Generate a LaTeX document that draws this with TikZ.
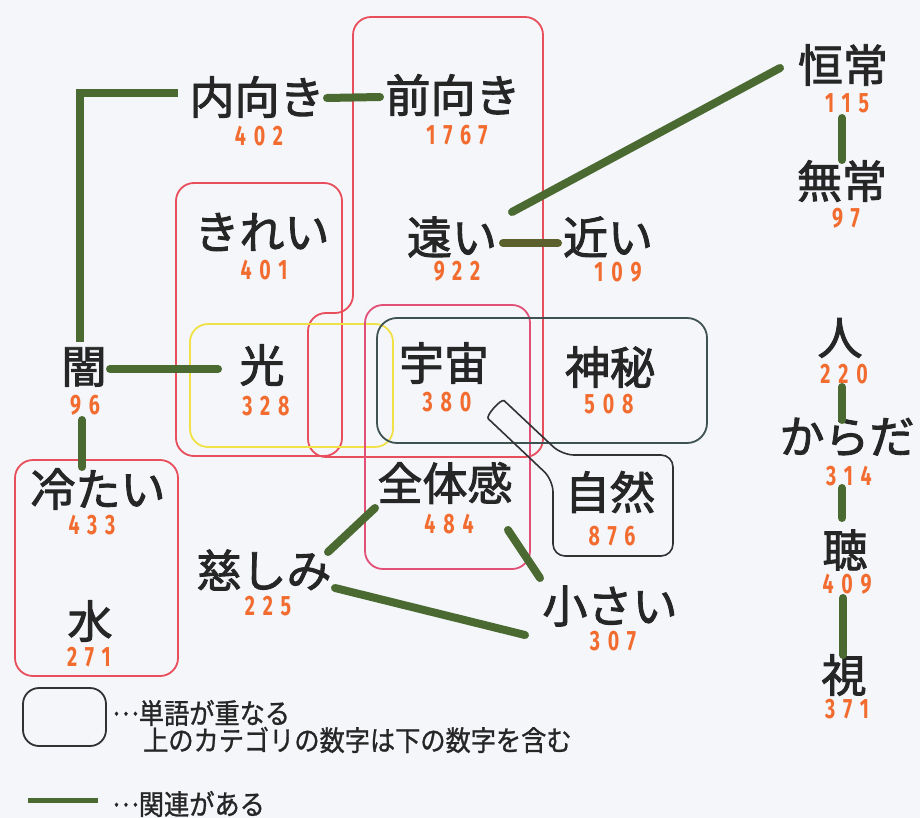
\documentclass[tikz,border=0pt]{standalone}
\usepackage{fontspec}
\setmainfont{Noto Sans CJK JP}
\newfontfamily\wordfont{Noto Sans CJK JP}[FakeBold=2]
\newfontfamily\numfont{Fira Sans}[FakeStretch=0.7,LetterSpace=28]
\newfontfamily\legfont{Noto Sans CJK JP}[FakeStretch=0.9,FakeBold=1]
\usetikzlibrary{calc}
\definecolor{bg}{RGB}{244,246,250}
\definecolor{boxred}{RGB}{232,78,92}
\definecolor{boxpink}{RGB}{226,80,120}
\definecolor{boxyel}{RGB}{240,226,70}
\definecolor{boxslate}{RGB}{62,82,82}
\definecolor{boxblk}{RGB}{50,50,50}
\definecolor{lnk}{RGB}{74,106,50}
\definecolor{lnkolive}{RGB}{92,96,44}
\definecolor{numc}{RGB}{242,108,48}
\definecolor{txt}{RGB}{38,38,38}
\begin{document}
\begin{tikzpicture}[x=1pt,y=-1pt,
  word/.style={inner sep=0pt, text=txt, font=\wordfont\fontsize{45}{45}\selectfont},
  num/.style={inner sep=0pt, text=numc, font=\numfont\bfseries\fontsize{28}{28}\selectfont},
  link/.style={draw=lnk, line width=8pt, line cap=round},
  grp/.style={line width=1.8pt, rounded corners=18pt},
  leg/.style={inner sep=0pt, anchor=west, text=txt, font=\legfont\fontsize{28}{28}\selectfont}]
\fill[bg] (0,0) rectangle (920,818);
\useasboundingbox (0,0) rectangle (920,818);
% group outlines
\draw[grp, draw=boxred] (353,17) -- (543,17) -- (543,457) -- (308,457) -- (308,313) -- (353,313) -- cycle;
\draw[grp, draw=boxred] (176,183) rectangle (342,456);
\draw[grp, draw=boxyel] (190,324) rectangle (393,447);
\draw[grp, draw=boxpink] (365,305) rectangle (530,569);
\draw[grp, draw=boxslate, rounded corners=20pt] (377,318) rectangle (707,443);
\draw[grp, draw=boxred] (15,460) rectangle (178,676);
\draw[line width=1.6pt, draw=boxblk, rounded corners=12pt] (553,556) -- (553,480) -- (497,427) .. controls (485.3,416) and (501.3,398) .. (513,409) -- (562,455) -- (673,455) -- (673,556) -- cycle;
% words
\node[word] (naimuki) at (257,97) {内向き};
\node[word] (maemuki) at (453,95) {前向き};
\node[word] (kirei) at (262,232) {きれい};
\node[word] (tooi) at (452,237) {遠い};
\node[word] (chikai) at (608,237) {近い};
\node[word] (koujou) at (843,65) {恒常};
\node[word] (mujou) at (842,181) {無常};
\node[word] (yami) at (84,367) {闇};
\node[word] (hikari) at (262,365) {光};
\node[word] (uchuu) at (444,363) {宇宙};
\node[word] (shinpi) at (610,367) {神秘};
\node[word] (zentai) at (445,483) {全体感};
\node[word] (shizen) at (610,492) {自然};
\node[word] (itsu) at (264,570) {慈しみ};
\node[word] (chiisai) at (610,606) {小さい};
\node[word] (tsumetai) at (98,489) {冷たい};
\node[word] (mizu) at (90,621) {水};
\node[word] (hito) at (840,338) {人};
\node[word] (karada) at (847,437) {からだ};
\node[word] (chou) at (845,550) {聴};
\node[word] (shi) at (844,675) {視};
% numbers
\node[num] (n1) at (259,136) {402};
\node[num] (n2) at (457,135) {1767};
\node[num] (n3) at (264,270) {401};
\node[num] (n4) at (457,271) {922};
\node[num] (n5) at (618,272) {109};
\node[num] (n6) at (847,103) {115};
\node[num] (n7) at (846,218) {97};
\node[num] (n8) at (85,405) {96};
\node[num] (n9) at (266,406) {328};
\node[num] (n10) at (447,402) {380};
\node[num] (n11) at (609,404) {508};
\node[num] (n12) at (449,524) {484};
\node[num] (n13) at (612,536) {876};
\node[num] (n14) at (268,606) {225};
\node[num] (n15) at (613,641) {307};
\node[num] (n16) at (92,525) {433};
\node[num] (n17) at (89,657) {271};
\node[num] (n18) at (844,374) {220};
\node[num] (n19) at (849,476) {314};
\node[num] (n20) at (847,584) {409};
\node[num] (n21) at (847,709) {371};
% links
\draw[link] ($(naimuki)+(70,1)$) -- ($(maemuki)+(-73,2)$);
\draw[link, line cap=butt, line join=miter] ($(naimuki)+(-79,-4)$) -| ($(yami)+(-4,-25)$);
\draw[link] ($(yami)+(-2,53)$) -- ($(tsumetai)+(-16,-22)$);
\draw[link] ($(yami)+(26,2)$) -- ($(hikari)+(-44,4)$);
\draw[link] ($(koujou)+(-63,3)$) -- ($(tooi)+(60,-25)$);
\draw[link, draw=lnkolive] ($(tooi)+(51,6)$) -- ($(chikai)+(-50,6)$);
\draw[link] ($(koujou)+(-1,53)$) -- ($(mujou)+(0,-21)$);
\draw[link] ($(hito)+(2,49)$) -- ($(karada)+(-5,-17)$);
\draw[link] ($(karada)+(-5,51)$) -- ($(chou)+(-3,-32)$);
\draw[link] ($(chou)+(-2,48)$) -- ($(shi)+(-1,-20)$);
\draw[link] ($(zentai)+(-70,25)$) -- ($(itsu)+(64,-18)$);
\draw[link] ($(zentai)+(63,47)$) -- ($(chiisai)+(-70,-28)$);
\draw[link] ($(itsu)+(71,18)$) -- ($(chiisai)+(-85,29)$);
% legend
\draw[line width=1.8pt, draw=boxblk, rounded corners=16pt] (23,688) rectangle (106,746);
\node[leg] (leg1) at (112,713) {\raisebox{0.3em}{…}単語が重なる};
\node[leg] (leg2) at (143,740) {上のカテゴリの数字は下の数字を含む};
\coordinate (lgA) at (28,800);
\coordinate (lgB) at (98,800);
\draw[draw=lnk, line width=5pt] (lgA) -- (lgB);
\node[leg] (leg3) at (112,804) {\raisebox{0.3em}{…}関連がある};
\end{tikzpicture}
\end{document}
